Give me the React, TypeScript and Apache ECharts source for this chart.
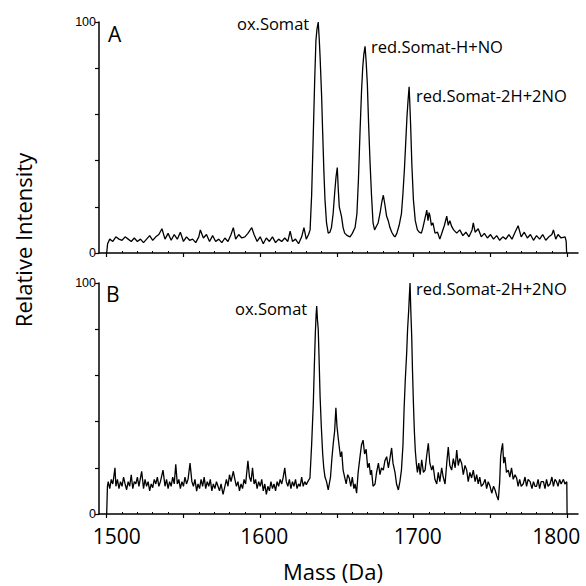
import React, { useEffect, useRef } from "react";
import * as echarts from "echarts";

// Panel A spectrum: [mass (Da), relative intensity]
const spectrumA: [number, number][] = [
  [1500, 0], [1500.6, 4], [1502, 6], [1504, 5], [1506, 7], [1508, 6], [1510, 5.5], [1512, 7], [1514, 6], [1516, 5],
  [1518, 6.5], [1520, 5], [1522, 6], [1524, 4.5], [1526, 6], [1528, 7.5], [1530, 5.5], [1532, 7], [1534, 8], [1536, 10.5],
  [1538, 6], [1540, 8.5], [1542, 5.5], [1544, 8], [1546, 6], [1548, 9], [1550, 5], [1552, 7], [1554, 5.5], [1556, 6],
  [1558, 4.5], [1560, 7], [1561, 10], [1563, 6.5], [1565, 8], [1567, 5], [1569, 7.5], [1571, 5], [1573, 6], [1575, 4.5],
  [1577, 6.5], [1579, 5], [1581, 8], [1582.5, 11], [1584, 6], [1586, 8], [1588, 6.5], [1590, 7], [1592, 8.5], [1594.5, 11],
  [1596, 8], [1598, 5], [1600, 7], [1602, 4], [1604, 6.5], [1606, 5], [1608, 7], [1610, 4.5], [1612, 6], [1614, 5],
  [1616, 6.5], [1618, 5], [1619.5, 9.5], [1621, 5], [1623, 6], [1625, 4], [1627, 7], [1628.5, 11], [1630, 6], [1631.5, 8],
  [1632.5, 10], [1633.5, 25], [1634.6, 52], [1635.5, 75], [1636.3, 92], [1637, 97], [1637.8, 100], [1638.5, 92], [1639, 85], [1640, 68],
  [1640.7, 52], [1641.5, 35], [1642.2, 23], [1643.2, 13], [1644.3, 8.6], [1645.4, 9], [1646.4, 11], [1647.5, 17], [1648.5, 26], [1649.4, 33],
  [1650.2, 37], [1650.9, 27], [1651.5, 20], [1652.2, 18], [1653, 15.6], [1654, 11], [1655, 8.6], [1656.8, 7.5], [1658.5, 7], [1660, 8.5],
  [1661.8, 11], [1663, 17], [1664, 32], [1665, 52], [1666, 70], [1666.8, 80.5], [1667.5, 86], [1668.3, 89.5], [1669, 83], [1669.8, 73],
  [1670.6, 56], [1671.5, 40], [1672.5, 25], [1673.5, 13], [1674.5, 10], [1675.6, 11.5], [1676.8, 13], [1678, 17], [1679.2, 22], [1680.2, 25],
  [1681.2, 21], [1682.3, 16], [1683.4, 14], [1684.5, 11], [1685.7, 9], [1687, 7.5], [1687.8, 7], [1689, 8.5], [1690.5, 12], [1692, 17],
  [1693, 26], [1694, 37], [1694.8, 48], [1695.6, 59], [1696.3, 66], [1697, 72], [1697.5, 64], [1698, 55], [1698.8, 38], [1699.8, 23],
  [1701, 14], [1702.4, 10], [1703.6, 9], [1705, 8.6], [1706, 11], [1707, 14], [1708, 17], [1708.5, 18.6], [1709.3, 14], [1710, 17.5],
  [1710.6, 16], [1711.5, 12], [1712.5, 13], [1713.9, 8.6], [1715.5, 9], [1717, 6], [1718.5, 9], [1720, 12], [1721.5, 16], [1722.5, 12],
  [1723.5, 14], [1724.7, 11.5], [1726, 10], [1728, 8.6], [1730, 10], [1732, 7.5], [1734, 9], [1736, 7], [1738, 10], [1738.8, 13],
  [1740, 9], [1742, 10.5], [1744, 7], [1746, 8.5], [1748, 6.5], [1750, 8], [1752, 6], [1754, 7.5], [1756, 5.5], [1758, 7],
  [1760, 6], [1762, 8], [1764, 6], [1766, 9], [1768, 11.8], [1770, 7], [1772, 9], [1774, 6.5], [1776, 8], [1778, 5.5],
  [1780, 7.5], [1782, 6], [1784, 8], [1786, 5.5], [1788, 7], [1790, 8], [1791, 10], [1792.5, 6], [1794, 8], [1796, 6.5],
  [1798.6, 7], [1799.3, 5], [1799.6, 0],
];

// Panel B spectrum: [mass (Da), relative intensity]
const spectrumB: [number, number][] = [
  [1500, 0], [1500.5, 12], [1501, 14], [1502, 11], [1503, 15], [1504, 13], [1505.4, 20], [1506, 12], [1507, 15], [1508, 11],
  [1509, 14], [1510, 12], [1511, 16], [1512, 13], [1513, 10.5], [1514, 14], [1515, 12], [1516, 17], [1517, 11], [1518, 14],
  [1519, 13], [1520, 16], [1521, 12], [1522.8, 18.5], [1524, 11], [1525, 15], [1526, 12], [1527, 14], [1528, 10], [1529, 13],
  [1530, 11.4], [1531, 15], [1532, 13], [1533, 16], [1534, 12], [1535, 14], [1536.7, 19], [1538, 12], [1539, 15], [1540, 11],
  [1541, 14], [1542, 12], [1543, 16], [1544, 13], [1545, 21.5], [1546, 13], [1547, 15], [1548, 11], [1549, 14], [1550, 12],
  [1551, 16], [1552, 13], [1553, 15], [1554.3, 22], [1555.5, 14], [1556.5, 12], [1557.5, 15], [1558.6, 9.9], [1559.5, 13], [1560.5, 11],
  [1561.5, 15], [1562.5, 12], [1563.5, 16], [1564.5, 11], [1565.5, 14], [1566.5, 12], [1567.5, 15], [1568.5, 10], [1569.5, 13], [1570.5, 11],
  [1571.5, 14], [1572.5, 12], [1573.5, 10], [1574.5, 13], [1575.8, 8.5], [1577, 12], [1578, 15], [1579, 12], [1580, 17], [1581, 14],
  [1582.5, 18.5], [1583.5, 15], [1584.5, 12], [1585.5, 14], [1586.5, 10], [1587.5, 13], [1588.5, 11], [1589.5, 15], [1590.5, 13], [1592, 23],
  [1593, 16], [1594, 14], [1595, 20], [1596, 13], [1597, 15], [1598, 11], [1599, 14], [1600, 12], [1601, 15], [1602, 10],
  [1603, 13], [1604, 8.5], [1605, 12], [1606, 10], [1607, 14], [1608, 11], [1609, 13], [1610, 10], [1611, 14], [1612, 12],
  [1613, 15], [1614, 13], [1615, 16], [1616, 20], [1617, 14], [1618, 12], [1619, 15], [1620, 11], [1621, 14], [1622, 12],
  [1623, 15], [1624, 11], [1625, 13], [1626, 12], [1627, 16], [1628, 12], [1629, 14], [1630, 12.7], [1631, 14], [1632.4, 15.6],
  [1633.5, 30], [1634.6, 48], [1635.3, 65], [1635.9, 78], [1636.4, 86], [1636.8, 90], [1637.3, 84], [1637.8, 80], [1638.4, 66], [1639, 51],
  [1639.8, 38], [1640.7, 26], [1641.4, 20], [1642.2, 16], [1643.2, 14], [1644.3, 10.4], [1645, 13], [1645.8, 16], [1646.7, 24], [1647.6, 30.6],
  [1648.5, 36], [1649.3, 46], [1650, 38], [1650.8, 33], [1651.5, 29], [1652.3, 24.7], [1653.1, 27], [1654, 19], [1655, 16], [1656, 13],
  [1657, 17], [1658, 15.6], [1659, 12], [1660, 16], [1661, 11], [1661.8, 13], [1662.8, 9], [1663.8, 18], [1665, 24.7], [1666, 30],
  [1667, 32], [1668, 26], [1669, 28], [1670, 20], [1671, 22], [1671.8, 17], [1672.5, 19], [1673.5, 12], [1674.8, 13], [1675.8, 18],
  [1677, 22], [1678, 17], [1679, 20], [1680.2, 19], [1681.2, 23], [1682.4, 24.8], [1683.5, 20], [1684.5, 24], [1685.6, 28.6], [1686.5, 22],
  [1687.8, 18], [1688.8, 13], [1690, 10.4], [1691, 14], [1692, 19], [1693, 30], [1693.7, 45], [1694.5, 58], [1695.4, 69.6], [1696, 80],
  [1696.7, 88], [1697.2, 95], [1697.6, 100], [1698.1, 88], [1698.7, 76.6], [1699.2, 62], [1699.8, 48], [1700.4, 36], [1701, 27.7], [1701.7, 22],
  [1702.4, 18], [1703.3, 22], [1704.2, 17], [1705.2, 23.5], [1706.3, 18], [1707.4, 19], [1708.4, 25], [1709.5, 30.6], [1710.5, 22], [1711.7, 19],
  [1712.6, 21], [1713.8, 15], [1715, 13], [1716, 18], [1717, 14], [1718.2, 20], [1719.2, 16], [1720.4, 13], [1721.5, 22], [1722.5, 29],
  [1723.5, 21], [1724.7, 19], [1725.8, 24], [1727, 20], [1728, 27.7], [1729, 21], [1730, 24], [1731.2, 22], [1732.3, 17], [1733.4, 21],
  [1734.5, 19], [1735.5, 14], [1736.6, 18], [1737.7, 15.6], [1738.8, 19], [1740, 14], [1741, 17], [1742, 13], [1743, 16], [1744, 12],
  [1745.3, 13], [1746.5, 15], [1747.5, 11], [1748.5, 14], [1749.7, 12], [1750.8, 9], [1752, 12], [1753, 10.4], [1754, 8], [1755.1, 6],
  [1756, 14], [1756.6, 24.7], [1757.2, 28], [1757.9, 30.6], [1758.6, 22], [1759.4, 24.7], [1760.4, 18], [1761.6, 19], [1762.6, 16], [1763.7, 20],
  [1764.8, 15], [1766, 17], [1767, 15.6], [1768, 12], [1769, 15], [1770, 12], [1771.3, 13], [1772.5, 16], [1773.5, 12], [1774.5, 15],
  [1775.8, 14], [1777, 11], [1778, 14], [1779, 12], [1780, 12], [1781, 15], [1782, 11], [1783, 14], [1784.5, 14], [1785.5, 11],
  [1786.5, 15], [1787.5, 12], [1788.8, 13], [1790, 16], [1791, 12], [1792, 15], [1793, 14], [1794, 12], [1795, 15], [1796, 13],
  [1797.5, 15], [1798.5, 13], [1799.7, 14], [1799.9, 0],
];

const xMajorTicks = [1500, 1550, 1600, 1650, 1700, 1750, 1800];
const xMinorTicks = [
  1510, 1520, 1530, 1540, 1560, 1570, 1580, 1590, 1610, 1620, 1630, 1640,
  1660, 1670, 1680, 1690, 1710, 1720, 1730, 1740, 1760, 1770, 1780, 1790,
];
const xTickLabels = [1500, 1600, 1700, 1800];
const yTickLabels = [0, 100];

const FONT = "Open Sans";

export default function App() {
  const ref = useRef<HTMLDivElement>(null);
  useEffect(() => {
    if (!ref.current) return;
    const chart = echarts.init(ref.current, null, { renderer: "svg" });
    const grids = [
      { left: 99, top: 22, width: 479, height: 231, outerBoundsMode: "none", containLabel: false },
      { left: 99, top: 283, width: 479, height: 231, outerBoundsMode: "none", containLabel: false },
    ];
    const labelFont = { fontSize: 21, lineHeight: 21, color: "#000", fontFamily: FONT };
    const mainX = (i: number) => ({
      gridIndex: i,
      type: "value",
      min: 1495,
      max: 1807,
      axisLine: { show: true, onZero: false, lineStyle: { color: "#000", width: 1.5 } },
      axisTick: { show: true, customValues: xMajorTicks, length: 4, lineStyle: { color: "#000", width: 1.2 } },
      axisLabel: {
        show: i === 1,
        customValues: xTickLabels,
        formatter: (v: number) => {
          const first = v === xTickLabels[0];
          const last = v === xTickLabels[xTickLabels.length - 1];
          return first ? `{l|${v}}` : last ? `{r|${v}}` : `{c|${v}}`;
        },
        ...labelFont,
        margin: 11,
        rich: {
          l: { ...labelFont, padding: [0, 0, 0, 20] },
          r: { ...labelFont, padding: [0, 22, 0, 0] },
          c: { ...labelFont, padding: [0, 0, 0, 8] },
        },
      },
      splitLine: { show: false },
    });
    const minorX = (i: number) => ({
      gridIndex: i,
      type: "value",
      min: 1495,
      max: 1807,
      axisLine: { show: false },
      axisTick: { show: true, customValues: xMinorTicks, length: 2, lineStyle: { color: "#000", width: 1 } },
      axisLabel: { show: false },
      splitLine: { show: false },
    });
    const yAx = (i: number) => ({
      gridIndex: i,
      type: "value",
      min: 0,
      max: 100,
      interval: 20,
      axisLine: { show: true, lineStyle: { color: "#000", width: 1.5 } },
      axisTick: { show: true, length: 4, lineStyle: { color: "#000", width: 1.2 } },
      axisLabel: {
        formatter: (v: number) => (yTickLabels.includes(v) ? String(v) : ""),
        fontSize: 12.5,
        lineHeight: 12,
        color: "#000",
        fontFamily: "Liberation Sans",
        margin: 3,
      },
      splitLine: { show: false },
    });
    const txt = (text: string, x: number, y: number, size: number) => ({
      type: "text",
      x,
      y,
      style: {
        text,
        fontSize: size,
        fontFamily: FONT,
        fill: "#000",
        textVerticalAlign: "middle",
        textAlign: "left",
      },
    });
    chart.setOption({
      animation: false,
      backgroundColor: "#fff",
      grid: grids,
      xAxis: [mainX(0), mainX(1), minorX(0), minorX(1)],
      yAxis: [yAx(0), yAx(1)],
      series: [
        {
          type: "line",
          xAxisIndex: 0,
          yAxisIndex: 0,
          data: spectrumA,
          showSymbol: false,
          lineStyle: { color: "#000", width: 1.3 },
        },
        {
          type: "line",
          xAxisIndex: 1,
          yAxisIndex: 1,
          data: spectrumB,
          showSymbol: false,
          lineStyle: { color: "#000", width: 1.3 },
        },
      ],
      graphic: [
        txt("A", 108, 34, 21),
        txt("B", 106, 294, 21),
        txt("ox.Somat", 237, 23, 16.5),
        txt("red.Somat-H+NO", 371, 46, 16.5),
        txt("red.Somat-2H+2NO", 416, 95, 16.5),
        txt("ox.Somat", 235, 308, 16.5),
        txt("red.Somat-2H+2NO", 416, 288, 16.5),
        {
          type: "text",
          x: 23,
          y: 240,
          rotation: Math.PI / 2,
          style: {
            text: "Relative Intensity",
            fontSize: 22,
            fontFamily: FONT,
            fill: "#000",
            textAlign: "center",
            textVerticalAlign: "middle",
          },
        },
        {
          type: "text",
          x: 333,
          y: 571,
          style: {
            text: "Mass (Da)",
            fontSize: 22,
            fontFamily: FONT,
            fill: "#000",
            textAlign: "center",
            textVerticalAlign: "middle",
          },
        },
      ],
    });
    return () => chart.dispose();
  }, []);
  return (
    <div
      ref={ref}
      style={{ position: "fixed", left: 0, top: 0, width: 586, height: 586, background: "#fff" }}
    />
  );
}
